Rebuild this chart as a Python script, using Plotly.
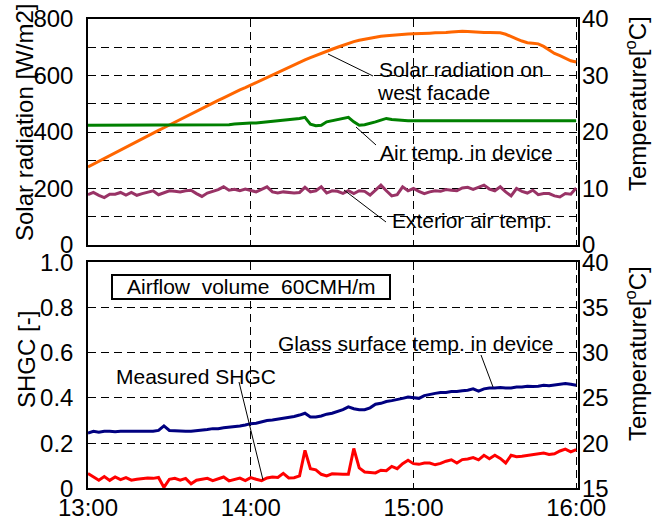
import plotly.graph_objects as go
import pandas as pd

# ---------------- data (sampled every 2 minutes, 13:00 -> 16:00) ----------------
start_time = "2000-01-01 13:00"
n_points = 91

solar_radiation = [276, 286, 297, 308, 318, 327, 337, 347, 357, 367, 377, 387, 397, 406, 415, 425,
                   435, 445, 454, 464, 473, 483, 493, 502, 512, 521, 531, 540, 549, 557, 566, 575,
                   584, 593, 602, 612, 621, 630, 638, 647, 655, 663, 671, 679, 686, 693, 700, 707,
                   714, 720, 725, 729, 733, 736, 739, 741, 743, 745, 746, 747, 748, 748, 749, 750,
                   751, 751, 752, 754, 756, 757, 756, 754, 753, 752, 752, 752, 751, 746, 739, 730,
                   722, 716, 714, 712, 703, 690, 678, 670, 661, 652, 648]

air_temp_device = [21.2, 21.2, 21.2, 21.2, 21.2, 21.2, 21.2, 21.3, 21.2, 21.2, 21.2, 21.2, 21.2, 21.2,
                   21.2, 21.3, 21.2, 21.2, 21.3, 21.2, 21.2, 21.2, 21.2, 21.3, 21.3, 21.3, 21.3, 21.4,
                   21.5, 21.5, 21.6, 21.6, 21.7, 21.8, 21.8, 21.9, 22.0, 22.1, 22.2, 22.4, 22.6, 21.4,
                   21.1, 21.2, 21.8, 22.0, 22.1, 22.3, 22.6, 21.8, 21.2, 21.3, 21.5, 21.8, 22.1, 22.4,
                   22.2, 22.1, 22.0, 22.0, 22.0, 22.0, 22.0, 22.0, 22.0, 22.0, 22.0, 22.0, 22.0, 22.1,
                   22.0, 22.0, 22.0, 22.0, 22.0, 22.0, 22.0, 22.0, 22.0, 22.1, 22.0, 22.0, 22.0, 22.0,
                   22.0, 22.0, 22.0, 22.0, 22.0, 22.0, 22.0]

exterior_air_temp = [8.9, 9.3, 8.8, 8.4, 9.0, 9.0, 9.3, 8.85, 9.3, 8.8, 9.1, 9.4, 9.6, 8.9, 9.3, 9.6,
                     9.5, 9.4, 9.6, 9.7, 9.1, 8.6, 9.2, 9.5, 9.8, 10.3, 9.7, 9.85, 9.6, 9.9, 9.7, 9.4,
                     9.85, 10.3, 9.4, 9.2, 9.4, 9.3, 9.2, 9.3, 10.2, 9.4, 9.6, 10.3, 9.2, 9.6, 9.5,
                     9.15, 9.6, 9.1, 9.6, 9.5, 8.85, 9.7, 10.6, 9.6, 8.7, 8.9, 10.3, 9.6, 10.0, 9.5,
                     9.1, 9.4, 9.6, 9.5, 9.8, 9.7, 9.6, 10.1, 10.2, 9.85, 10.2, 10.6, 9.9, 9.6, 10.3,
                     9.4, 8.7, 10.0, 9.5, 9.2, 9.7, 8.9, 9.1, 9.1, 8.7, 8.5, 9.1, 9.0, 10.1]

glass_surface_temp = [21.1, 21.3, 21.2, 21.3, 21.3, 21.25, 21.3, 21.3, 21.3, 21.3, 21.3, 21.3, 21.3,
                      21.4, 21.9, 21.4, 21.35, 21.3, 21.3, 21.3, 21.35, 21.4, 21.5, 21.6, 21.6, 21.7,
                      21.75, 21.8, 21.9, 22.0, 22.15, 22.2, 22.35, 22.5, 22.55, 22.65, 22.7, 22.85,
                      22.95, 23.1, 23.3, 22.9, 22.9, 23.0, 23.2, 23.3, 23.5, 23.7, 24.0, 23.8, 23.7,
                      23.7, 23.9, 24.3, 24.4, 24.6, 24.7, 24.8, 24.95, 25.1, 25.05, 24.95, 25.25, 25.4,
                      25.5, 25.6, 25.6, 25.7, 25.7, 25.8, 25.85, 26.0, 25.75, 26.0, 26.1, 26.1, 26.15,
                      26.1, 26.1, 26.2, 26.2, 26.3, 26.25, 26.3, 26.4, 26.35, 26.45, 26.55, 26.6, 26.5,
                      26.4]

measured_shgc = [0.065, 0.052, 0.036, 0.052, 0.035, 0.050, 0.038, 0.047, 0.036, 0.040, 0.044, 0.046,
                 0.044, 0.048, 0.004, 0.040, 0.044, 0.036, 0.044, 0.020, 0.036, 0.040, 0.044, 0.034,
                 0.042, 0.050, 0.033, 0.040, 0.045, 0.034, 0.047, 0.040, 0.034, 0.046, 0.050, 0.048,
                 0.066, 0.046, 0.047, 0.055, 0.168, 0.087, 0.082, 0.062, 0.055, 0.064, 0.062, 0.062,
                 0.062, 0.176, 0.090, 0.072, 0.070, 0.068, 0.080, 0.078, 0.097, 0.087, 0.109, 0.124,
                 0.109, 0.106, 0.112, 0.112, 0.104, 0.110, 0.120, 0.126, 0.112, 0.127, 0.130, 0.136,
                 0.126, 0.146, 0.131, 0.146, 0.132, 0.112, 0.146, 0.140, 0.142, 0.146, 0.150, 0.152,
                 0.156, 0.150, 0.153, 0.165, 0.173, 0.161, 0.171]

x_tick_labels = ["13:00", "14:00", "15:00", "16:00"]
x_tick_times = ["2000-01-01 13:00", "2000-01-01 14:00", "2000-01-01 15:00", "2000-01-01 16:00"]
x_range = ["2000-01-01 13:00:00", "2000-01-01 16:00:40"]

solar_ticks = [0, 100, 200, 300, 400, 500, 600, 700, 800]
solar_ticktext = ["0", "", "200", "", "400", "", "600", "", "800"]
temp_top_ticks = [0, 10, 20, 30, 40]
shgc_ticks = [0, 0.2, 0.4, 0.6, 0.8, 1.0]
shgc_ticktext = ["0", "0.2", "0.4", "0.6", "0.8", "1.0"]
temp_bottom_ticks = [15, 20, 25, 30, 35, 40]

times = pd.date_range(start_time, periods=n_points, freq="2min")

# ---------------- styling ----------------
W, H = 662, 520
FONT = "Arial, Liberation Sans, sans-serif"
ORANGE = "#FF6600"
GREEN = "#008000"
PURPLE = "#993366"
NAVY = "#000080"
RED = "#FF0000"
GRID_DASH = "8px,5px"


def px(x):
    return x / W


def py(y):
    return 1 - y / H


XDOM = [px(88), px(578)]
TOP_DOM = [py(245), py(19)]
BOT_DOM = [py(488.3), py(262.3)]

fig = go.Figure()
fig.add_trace(go.Scatter(x=times, y=solar_radiation, mode="lines", line=dict(color=ORANGE, width=3),
                         xaxis="x", yaxis="y"))
fig.add_trace(go.Scatter(x=times, y=air_temp_device, mode="lines", line=dict(color=GREEN, width=3),
                         xaxis="x", yaxis="y2"))
fig.add_trace(go.Scatter(x=times, y=exterior_air_temp, mode="lines", line=dict(color=PURPLE, width=3),
                         xaxis="x", yaxis="y2"))
fig.add_trace(go.Scatter(x=times, y=glass_surface_temp, mode="lines", line=dict(color=NAVY, width=3),
                         xaxis="x2", yaxis="y4"))
fig.add_trace(go.Scatter(x=times, y=measured_shgc, mode="lines", line=dict(color=RED, width=3),
                         xaxis="x2", yaxis="y3"))

tickfont = dict(family=FONT, size=24, color="black")
common_x = dict(type="date", range=x_range, tickvals=x_tick_times, ticktext=x_tick_labels,
                showgrid=True, gridcolor="black", gridwidth=1, griddash=GRID_DASH,
                showline=True, mirror=True, linecolor="black", linewidth=1.5, ticks="",
                zeroline=False, tickfont=tickfont, domain=XDOM, automargin=False)

fig.update_layout(
    template="none",
    width=W, height=H, autosize=False,
    margin=dict(l=0, r=0, t=0, b=0, pad=0),
    paper_bgcolor="white", plot_bgcolor="white",
    showlegend=False,
    xaxis=dict(common_x, anchor="y", showticklabels=False),
    xaxis2=dict(common_x, anchor="y3", showticklabels=True, ticklabelstandoff=-3),
    yaxis=dict(domain=TOP_DOM, anchor="x", range=[0, 800], tickvals=solar_ticks, ticktext=solar_ticktext,
               showgrid=True, gridcolor="black", gridwidth=1, griddash=GRID_DASH,
               showline=True, mirror=True, linecolor="black", linewidth=1.5, ticks="",
               zeroline=False, tickfont=tickfont, ticklabelstandoff=8, automargin=False),
    yaxis2=dict(overlaying="y", anchor="x", side="right", range=[0, 40], tickvals=temp_top_ticks,
                showgrid=False, showline=False, ticks="", zeroline=False, tickfont=tickfont,
                ticklabelstandoff=3, automargin=False),
    yaxis3=dict(domain=BOT_DOM, anchor="x2", range=[0, 1.0], tickvals=shgc_ticks, ticktext=shgc_ticktext,
                showgrid=True, gridcolor="black", gridwidth=1, griddash=GRID_DASH,
                showline=True, mirror=True, linecolor="black", linewidth=1.5, ticks="",
                zeroline=False, tickfont=tickfont, ticklabelstandoff=8, automargin=False),
    yaxis4=dict(overlaying="y3", anchor="x2", side="right", range=[15, 40], tickvals=temp_bottom_ticks,
                showgrid=False, showline=False, ticks="", zeroline=False, tickfont=tickfont,
                ticklabelstandoff=3, automargin=False),
)

ann_font = dict(family=FONT, size=21, color="black")
title_font = dict(family=FONT, size=24, color="black")

annotations = [
    # axis titles
    dict(text="Solar radiation [W/m2]", x=px(24), y=py(123), textangle=-90, font=title_font),
    dict(text="Temperature[<sup>o</sup>C]", x=px(636), y=py(104), textangle=-90, font=title_font),
    dict(text="SHGC [-]", x=px(26), y=py(360), textangle=-90, font=title_font),
    dict(text="Temperature[<sup>o</sup>C]", x=px(636), y=py(354), textangle=-90, font=title_font),
    # series labels
    dict(text="Solar radiation on", x=px(377), y=py(70), xanchor="left", font=ann_font),
    dict(text="west facade", x=px(375), y=py(92), xanchor="left", font=ann_font),
    dict(text="Air temp. in device", x=px(378), y=py(152), xanchor="left", font=ann_font),
    dict(text="Exterior air temp.", x=px(390), y=py(220), xanchor="left", font=ann_font),
    dict(text="Measured SHGC", x=px(114), y=py(376), xanchor="left", font=ann_font),
    dict(text="Glass surface temp. in device", x=px(276), y=py(343), xanchor="left", font=ann_font),
    dict(text="Airflow  volume  60CMH/m", x=px(251), y=py(286.5), font=ann_font),
]
for a in annotations:
    a.setdefault("xanchor", "center")
    a["yanchor"] = "middle"
    a["xref"] = "paper"
    a["yref"] = "paper"
    a["showarrow"] = False
fig.update_layout(annotations=annotations)

callouts = [
    ((328, 54), (373, 76)),
    ((356, 127), (376, 145)),
    ((344, 190), (386, 222)),
    ((239, 382), (263, 480)),
    ((481, 355), (493, 387)),
]
shapes = []
for (x0, y0), (x1, y1) in callouts:
    shapes.append(dict(type="line", xref="paper", yref="paper", x0=px(x0), y0=py(y0), x1=px(x1), y1=py(y1),
                       line=dict(color="black", width=1)))
shapes.append(dict(type="rect", xref="paper", yref="paper", x0=px(112), y0=py(299), x1=px(390), y1=py(275),
                   line=dict(color="black", width=2), fillcolor="white", layer="above"))
fig.update_layout(shapes=shapes)

fig.write_html("out.html", config={"displayModeBar": False},
               post_script="document.body.style.margin='0';document.body.style.overflow='hidden';")
